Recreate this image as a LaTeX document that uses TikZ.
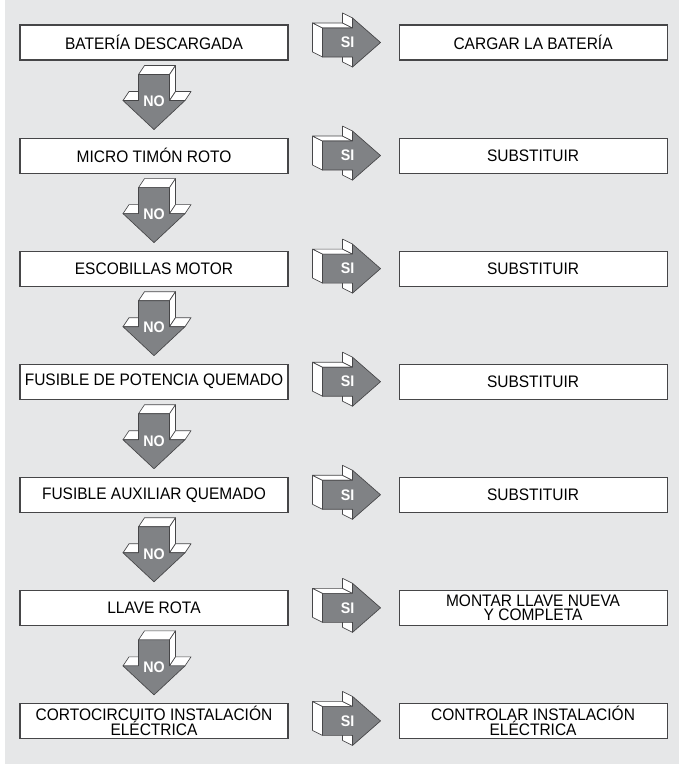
\documentclass[tikz,border=0pt]{standalone}
\usepackage{fontspec}
\setmainfont{Liberation Sans}[FakeStretch=0.93]
\usepackage{tikz}
\usetikzlibrary{positioning}

\definecolor{bggray}{RGB}{230,231,232}
\definecolor{arrowgray}{RGB}{128,130,133}
\definecolor{edgegray}{RGB}{70,70,72}

\tikzset{
  face/.style={fill=white, draw=edgegray, line width=0.5pt, line join=round},
  front/.style={fill=arrowgray, draw=edgegray, line width=0.5pt, line join=round},
  arrlbl/.style={text=white, font=\fontsize{11.5}{12}\selectfont\bfseries, inner sep=0pt},
  % block arrow to the right, extruded up-left
  siarrow/.pic={
    \draw[face] (0,-14.5) -- (0,14.5) -- (-10,19.5) -- (-10,-9.5) -- cycle;
    \draw[face] (0,14.5) -- (30,14.5) -- (20,19.5) -- (-10,19.5) -- cycle;
    \draw[face] (30,14.5) -- (30,24.5) -- (20,29.5) -- (20,19.5) -- cycle;
    \draw[face] (30,-24.5) -- (30,-14.5) -- (20,-9.5) -- (20,-19.5) -- cycle;
    \draw[front] (0,-14.5) -- (30,-14.5) -- (30,-24.5) -- (58,0) -- (30,24.5)
      -- (30,14.5) -- (0,14.5) -- cycle;
    \node[arrlbl] at (25,0) {SI};
  },
  % block arrow downwards, extruded up-right
  noarrow/.pic={
    \draw[face] (-15.5,0) -- (15.5,0) -- (21.5,9) -- (-9.5,9) -- cycle;
    \draw[face] (15.5,0) -- (21.5,9) -- (21.5,-17) -- (15.5,-26) -- cycle;
    \draw[face] (15.5,-26) -- (31,-26) -- (37,-17) -- (21.5,-17) -- cycle;
    \draw[face] (-31,-26) -- (-15.5,-26) -- (-9.5,-17) -- (-25,-17) -- cycle;
    \draw[front] (-15.5,0) -- (15.5,0) -- (15.5,-26) -- (31,-26) -- (0,-55)
      -- (-31,-26) -- (-15.5,-26) -- cycle;
    \node[arrlbl] at (0,-27) {NO};
  }
}

\begin{document}
\begin{tikzpicture}[
  x=0.75pt, y=0.75pt,
  box/.style={rectangle, draw=edgegray, line width=0.8pt, fill=white,
    minimum width=201pt, minimum height=26.25pt, inner sep=0pt, align=center,
    font=\fontsize{12.5}{11}\selectfont},
  node distance=57.75pt and 82.5pt
]
% background
\fill[white] (0,0) rectangle (679,-764);
\fill[bggray] (5,0) rectangle (679,-764);

% -- faults (left column) --
\node[box] (bat) at (154,-42.5) {BATERÍA DESCARGADA};
\node[box, below=of bat]  (mic)  {MICRO TIMÓN ROTO};
\node[box, below=of mic]  (esc)  {ESCOBILLAS MOTOR};
\node[box, below=of esc]  (fpot) {FUSIBLE DE POTENCIA QUEMADO};
\node[box, below=of fpot] (faux) {FUSIBLE AUXILIAR QUEMADO};
\node[box, below=of faux] (llv)  {LLAVE ROTA};
\node[box, below=of llv]  (cort) {CORTOCIRCUITO INSTALACIÓN\\ELÉCTRICA};

% -- remedies (right column) --
\node[box, right=of bat]  (carg) {CARGAR LA BATERÍA};
\node[box, right=of mic]  (sub1) {SUBSTITUIR};
\node[box, right=of esc]  (sub2) {SUBSTITUIR};
\node[box, right=of fpot] (sub3) {SUBSTITUIR};
\node[box, right=of faux] (sub4) {SUBSTITUIR};
\node[box, right=of llv]  (mont) {MONTAR LLAVE NUEVA\\Y COMPLETA};
\node[box, right=of cort] (ctrl) {CONTROLAR INSTALACIÓN\\ELÉCTRICA};

% -- SI arrows --
\foreach \q in {bat,mic,esc,fpot,faux,llv,cort}
  \pic at ([xshift=25.5pt]\q.east) {siarrow};

% -- NO arrows --
\foreach \q in {bat,mic,esc,fpot,faux,llv}
  \pic at ([yshift=-10.5pt]\q.south) {noarrow};
\end{tikzpicture}
\end{document}
